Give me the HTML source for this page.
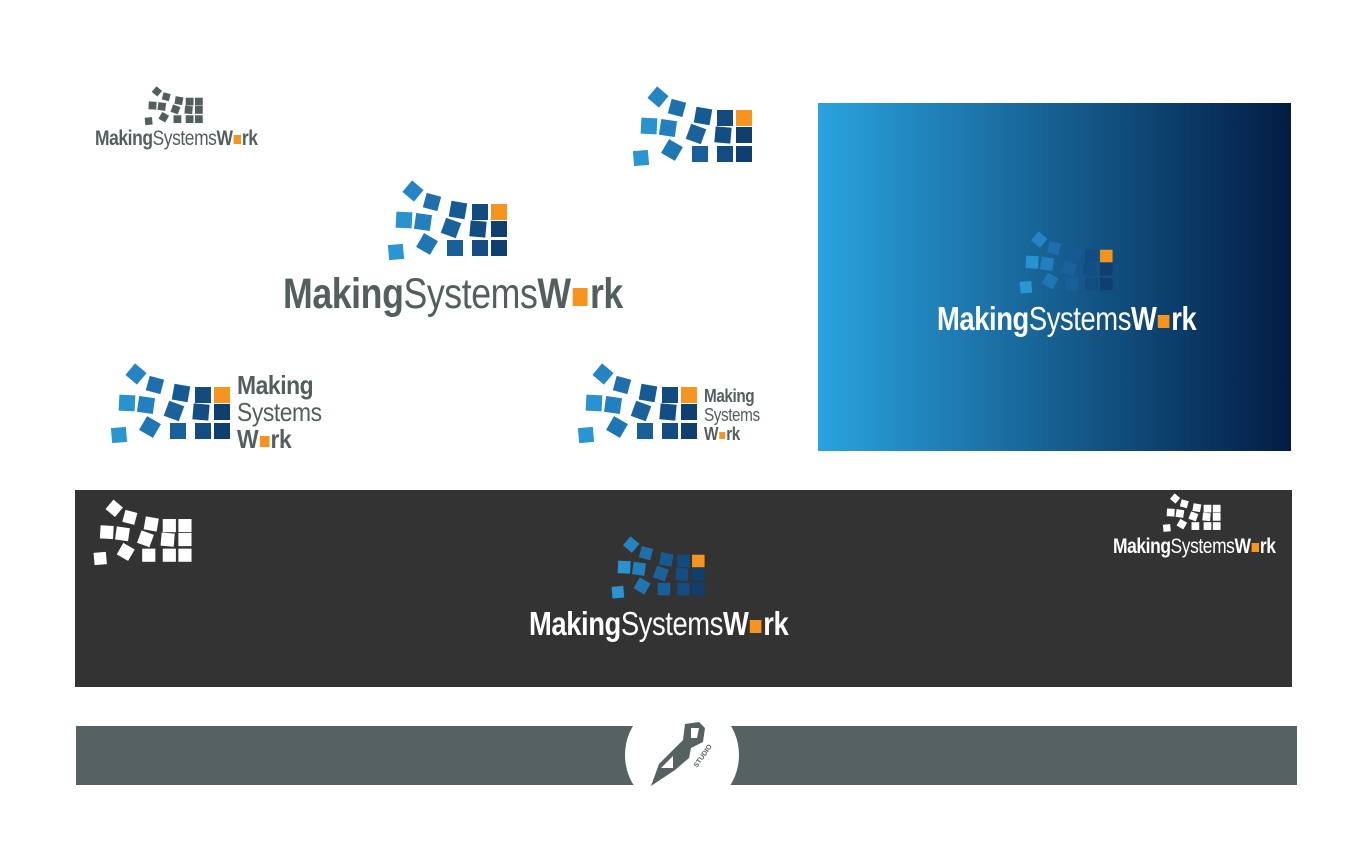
<!DOCTYPE html>
<html><head><meta charset="utf-8"><style>
body{margin:0;width:1360px;height:856px;background:#fff;position:relative;overflow:hidden;font-family:"Liberation Sans Narrow","Liberation Sans",sans-serif}
.a{position:absolute}
.t{position:absolute;white-space:nowrap;color:#535f5f;line-height:1;letter-spacing:-0.5px;transform-origin:0 0;transform:scaleX(.83)}
.t b{font-weight:bold}.t span{font-weight:normal}
.sq{display:inline-block;background:#f7941d;width:.42em;height:.42em;margin:0 .06em;vertical-align:.05em}
svg.m{position:absolute;overflow:visible}
</style></head><body>
<svg width="0" height="0" style="position:absolute">
<defs>
<symbol id="mk" viewBox="0 0 124 82">
<rect x="-7.5" y="-7.5" width="15" height="15" transform="translate(27,11) rotate(40)" style="fill:var(--m,#2584c4)"/>
<rect x="-7.5" y="-7.5" width="15" height="15" transform="translate(46,22) rotate(15)" style="fill:var(--m,#1f6fac)"/>
<rect x="-8" y="-8" width="16" height="16" transform="translate(72,30) rotate(10)" style="fill:var(--m,#165a93)"/>
<rect x="86" y="24" width="16" height="16" style="fill:var(--m,#114b7f)"/>
<rect x="105" y="24" width="16" height="16" style="fill:var(--m,#f7941d)"/>
<rect x="-8" y="-8" width="16" height="16" transform="translate(18,40) rotate(3)" style="fill:var(--m,#2993d0)"/>
<rect x="-8" y="-8" width="16" height="16" transform="translate(37,42) rotate(8)" style="fill:var(--m,#2380bf)"/>
<rect x="-8" y="-8" width="16" height="16" transform="translate(65,48) rotate(20)" style="fill:var(--m,#1a6299)"/>
<rect x="-8" y="-8" width="16" height="16" transform="translate(92,49) rotate(5)" style="fill:var(--m,#124d83)"/>
<rect x="105" y="41" width="16" height="16" style="fill:var(--m,#0e3f6f)"/>
<rect x="-8" y="-8" width="16" height="16" transform="translate(41,64) rotate(30)" style="fill:var(--m,#1f76b4)"/>
<rect x="61" y="60" width="16" height="16" style="fill:var(--m,#18609a)"/>
<rect x="86" y="60" width="16" height="16" style="fill:var(--m,#124c80)"/>
<rect x="105" y="60" width="16" height="16" style="fill:var(--m,#0e3f6f)"/>
<rect x="-7.5" y="-7.5" width="15" height="15" transform="translate(10,72) rotate(-5)" style="fill:var(--m,#2996d3)"/>
</symbol>
<linearGradient id="bg" x1="0" x2="1" y1="0" y2="0"><stop offset="0" stop-color="#2aa3df"/><stop offset="1" stop-color="#021c44"/></linearGradient>
</defs></svg>

<svg class="m" style="left:143px;top:86px;--m:#535f5f" width="62" height="40"><use href="#mk"/></svg>
<div class="t" style="left:95px;top:128px;font-size:21px"><b>Making</b><span>Systems</span><b>W<i class="sq"></i>rk</b></div>

<svg class="m" style="left:386px;top:180px" width="124" height="82"><use href="#mk"/></svg>
<div class="t" style="left:283px;top:273px;font-size:43px"><b>Making</b><span>Systems</span><b>W<i class="sq"></i>rk</b></div>

<svg class="m" style="left:631px;top:86px" width="124" height="82"><use href="#mk"/></svg>

<svg class="a" style="left:818px;top:103px" width="473" height="348"><rect width="473" height="348" fill="url(#bg)"/></svg>
<svg class="m" style="left:1018px;top:231px" width="97" height="64"><use href="#mk"/></svg>
<div class="t" style="left:937px;top:302px;font-size:33px;color:#fff"><b>Making</b><span>Systems</span><b>W<i class="sq"></i>rk</b></div>

<svg class="m" style="left:109px;top:363px" width="124" height="82"><use href="#mk"/></svg>
<div class="t" style="left:237px;top:372px;font-size:26px;line-height:27px;transform:scaleX(.88)"><b>Making</b><br><span>Systems</span><br><b>W<i class="sq"></i>rk</b></div>

<svg class="m" style="left:576px;top:363px" width="124" height="82"><use href="#mk"/></svg>
<div class="t" style="left:704px;top:387px;font-size:18px;line-height:19px;transform:scaleX(.85)"><b>Making</b><br><span>Systems</span><br><b>W<i class="sq"></i>rk</b></div>

<div class="a" style="left:75px;top:490px;width:1217px;height:197px;background:#333333"></div>
<svg class="m" style="left:92px;top:499px;--m:#fff" width="102" height="68"><use href="#mk"/></svg>
<svg class="m" style="left:610px;top:536px" width="97" height="64"><use href="#mk"/></svg>
<div class="t" style="left:529px;top:607px;font-size:33px;color:#fff"><b>Making</b><span>Systems</span><b>W<i class="sq"></i>rk</b></div>
<svg class="m" style="left:1162px;top:493px;--m:#fff" width="60" height="40"><use href="#mk"/></svg>
<div class="t" style="left:1113px;top:536px;font-size:21px;color:#fff"><b>Making</b><span>Systems</span><b>W<i class="sq"></i>rk</b></div>

<div class="a" style="left:76px;top:726px;width:1221px;height:59px;background:#566262"></div>
<div class="a" style="left:625px;top:698px;width:114px;height:114px;border-radius:50%;background:#fff"></div>
<svg class="a" style="left:645px;top:718px" width="70" height="70" viewBox="0 0 70 70">
<path d="M6 68 L14 46 L30 30 L38 22 L40 6 L54 4 L60 10 L58 24 L46 30 L44 40 L30 52 Z" fill="#566262"/>
<path d="M16 50 L28 38 L28 50 Z" fill="#fff"/>
<path d="M46 10 L54 10 L52 20 L46 20 Z" fill="#fff"/>
<text x="52" y="50" font-size="7" font-weight="bold" fill="#566262" transform="rotate(-55 52 50)" font-family="Liberation Sans,sans-serif">STUDIO</text>
</svg>
</body></html>
